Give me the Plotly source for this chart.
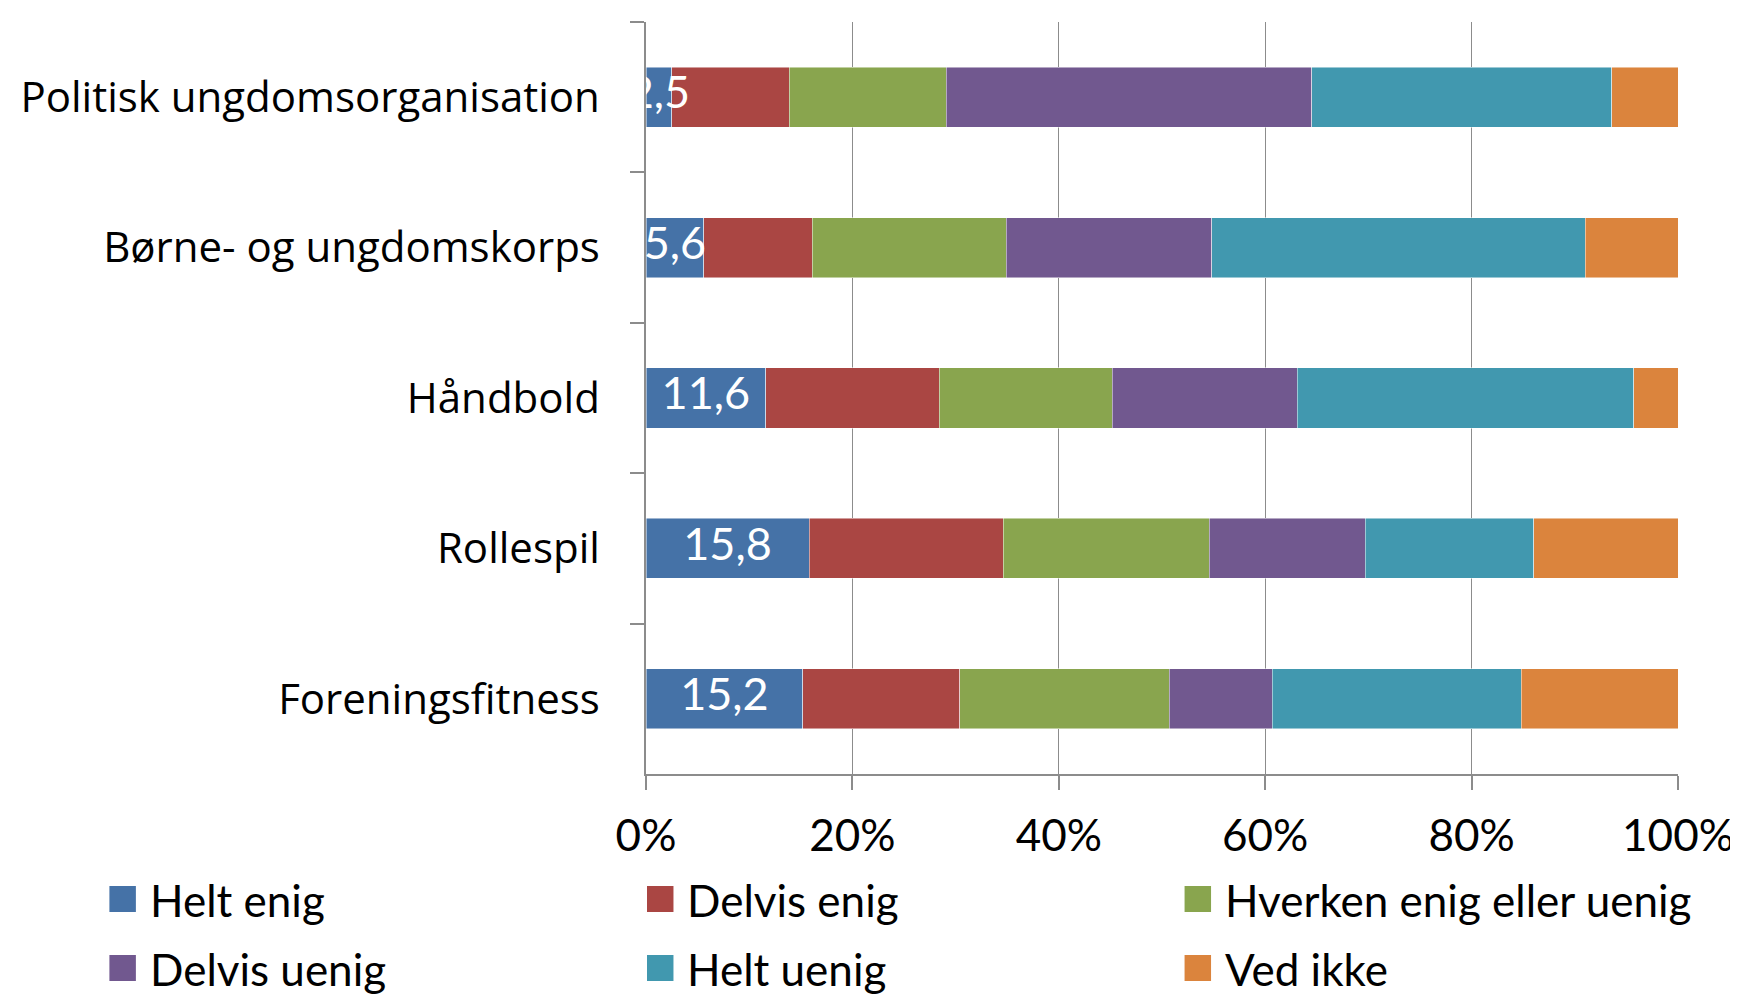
import plotly.graph_objects as go

categories = ["Politisk ungdomsorganisation", "Børne- og ungdomskorps", "Håndbold", "Rollespil", "Foreningsfitness"]
series_names = ["Helt enig", "Delvis enig", "Hverken enig eller uenig", "Delvis uenig", "Helt uenig", "Ved ikke"]
helt_enig = [2.5, 5.6, 11.6, 15.8, 15.2]
delvis_enig = [11.4, 10.5, 16.8, 18.8, 15.2]
hverken = [15.2, 18.8, 16.8, 20.0, 20.3]
delvis_uenig = [35.4, 19.9, 17.9, 15.1, 10.0]
helt_uenig = [29.1, 36.2, 32.6, 16.3, 24.1]
ved_ikke = [6.4, 9.0, 4.3, 14.0, 15.2]
x_ticks = [0, 20, 40, 60, 80, 100]
x_tick_labels = ["0%", "20%", "40%", "60%", "80%", "100%"]

colors = ["#4572A7", "#AA4643", "#89A54E", "#71588F", "#4198AF", "#DB843D"]
values = [helt_enig, delvis_enig, hverken, delvis_uenig, helt_uenig, ved_ikke]

W, H = 1738, 999
L, R, T, B = 630, 56, 14, 233
pw, ph = W - L - R, H - T - B

narrow = "Lato, sans-serif"

fig = go.Figure()
for i, (name, vals) in enumerate(zip(series_names, values)):
    fig.add_trace(go.Bar(
        y=categories, x=vals, name=name, orientation="h",
        marker=dict(color=colors[i], line=dict(color="rgba(255,255,255,0.6)", width=0.8)),
        showlegend=False, hoverinfo="x+name"))

# data labels for "Helt enig", drawn above all bars, centred in the segment
fig.add_trace(go.Scatter(
    y=categories, x=[v / 2 for v in helt_enig], mode="text",
    text=[f"{v:.1f}".replace(".", ",") for v in helt_enig],
    textposition="middle center", cliponaxis=True,
    textfont=dict(color="white", size=45, family=narrow),
    showlegend=False, hoverinfo="skip"))

def px_x(p):
    return (p - L) / pw

def px_y(p):
    return (H - B - p) / ph

# legend (manual, to match large square markers)
col_marker = [83, 631, 1179]
col_text = [122, 670, 1218]
row_center = [891, 960]
shapes, annots = [], []
for i, name in enumerate(series_names):
    r, c = divmod(i, 3)
    cy = row_center[r]
    shapes.append(dict(type="rect", xref="paper", yref="paper",
                       x0=px_x(col_marker[c]), x1=px_x(col_marker[c] + 27),
                       y0=px_y(cy + 13), y1=px_y(cy - 13),
                       fillcolor=colors[i], line=dict(width=0)))
    annots.append(dict(xref="paper", yref="paper", x=px_x(col_text[c]), y=px_y(cy + 1),
                       xanchor="left", yanchor="middle", text=name, showarrow=False,
                       font=dict(size=44, family=narrow, color="black")))

fig.update_layout(
    width=W, height=H,
    margin=dict(l=L, r=R, t=T, b=B, pad=0),
    barmode="stack", bargap=0.6,
    plot_bgcolor="white", paper_bgcolor="white",
    shapes=shapes, annotations=annots,
    xaxis=dict(range=[0, 100], tickvals=x_ticks, ticktext=x_tick_labels, showgrid=True,
               gridcolor="#8c8c8c", gridwidth=1.3, showline=True, linecolor="#8c8c8c", linewidth=1.5,
               ticks="outside", ticklen=14, tickcolor="#8c8c8c", tickwidth=1.5,
               ticklabelstandoff=8,
               tickfont=dict(size=44, family=narrow, color="black"), zeroline=False),
    yaxis=dict(autorange="reversed", showline=True, linecolor="#8c8c8c", linewidth=1.5,
               ticks="outside", ticklen=14, tickcolor="#8c8c8c", tickwidth=1.5,
               tickson="boundaries", showgrid=False, ticklabelstandoff=36,
               tickfont=dict(size=42, family="'Open Sans', sans-serif", color="black")),
)

fig.write_html("out.html")
